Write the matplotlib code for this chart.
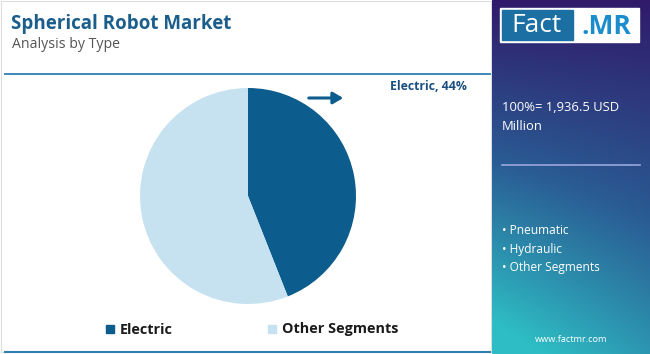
import matplotlib as mpl
import matplotlib.pyplot as plt
import numpy as np
from matplotlib.patches import Rectangle

W, H = 650, 354

# data
segments = ["Electric", "Other Segments"]
shares = [44, 56]
colors = ["#0d5c8e", "#c6e1f0"]
total_label = "100%= 1,936.5 USD\nMillion"
bullets = ["Pneumatic", "Hydraulic", "Other Segments"]

plt.rcParams['font.family'] = ['Open Sans', 'DejaVu Sans']

fig = plt.figure(figsize=(W / 100, H / 100), dpi=100)
fig.patch.set_facecolor("white")


def px_axes(x0, y0, x1, y1, **kw):
    # pixel box (top-left origin) -> figure axes
    return fig.add_axes([x0 / W, 1 - y1 / H, (x1 - x0) / W, (y1 - y0) / H], **kw)


# background frame for whole figure
bg = px_axes(0, 0, W, H)
bg.set_xlim(0, W)
bg.set_ylim(H, 0)
bg.axis("off")
bg.add_patch(Rectangle((1, 1), 490, 351, fill=False, ec="#dddddd", lw=0.8))
bg.plot([5, 490], [74, 74], color="#2f7fb0", lw=1.3)
bg.plot([5, 490], [352, 352], color="#2f7fb0", lw=1.5)
bg.text(11, 24, "Spherical Robot Market", fontsize=13.5, fontweight="bold",
        color="#1b5e8c", va="center", ha="left")
bg.text(12, 45, "Analysis by Type", fontsize=10.2, color="#555555",
        va="center", ha="left")

# right gradient panel
rp = px_axes(492, 0, W, H)
yy, xx = np.mgrid[0:1:200j, 0:1:100j]
t = np.clip(0.8 * yy + 0.3 * (1 - xx) * yy, 0, 1)
top = np.array([0x30, 0x1b, 0x6a]) / 255
mid = np.array([0x2a, 0x5c, 0x94]) / 255
bot = np.array([0x2e, 0xbd, 0xc4]) / 255
img = np.where(t[..., None] < 0.5,
               top + (mid - top) * (t[..., None] / 0.5),
               mid + (bot - mid) * ((t[..., None] - 0.5) / 0.5))
rp.imshow(img, aspect="auto", extent=[0, W - 492, H, 0])
rp.set_xlim(0, W - 492)
rp.set_ylim(H, 0)
rp.axis("off")

# logo
rp.add_patch(Rectangle((8, 8), 139, 34, color="white"))
rp.add_patch(Rectangle((10, 10), 71, 30, color="#1c6fa3"))
rp.text(45, 26, "Fact", color="white", fontsize=19, ha="center", va="center")
rp.text(114, 26, ".MR", color="#1b8ccc", fontsize=19, fontweight="bold",
        ha="center", va="center")

rp.text(10, 117, total_label, color="white", fontsize=9.4, ha="left",
        va="center", linespacing=1.65)
rp.plot([10, 148], [165, 165], color="#9aa6dd", lw=1.2)
for i, b in enumerate(bullets):
    rp.text(10, 231 + i * 18, "\u2022 " + b, color="white", fontsize=8.6,
            ha="left", va="center")
rp.text(79, 339, "www.factmr.com", color="white", fontsize=6.6,
        ha="center", va="center")

# pie
r = 108
cx, cy = 248, 196
ax = px_axes(cx - r, cy - r, cx + r, cy + r)
ax.pie(shares, colors=colors, startangle=90, counterclock=False,
       wedgeprops=dict(linewidth=0))
ax.set_xlim(-1, 1)
ax.set_ylim(-1, 1)
ax.set_aspect("equal")

# annotation
bg.annotate("", xy=(346, 98), xytext=(306, 98),
            arrowprops=dict(arrowstyle="-|>,head_length=0.6,head_width=0.35",
                            color="#0d5c8e", lw=2.2))
bg.text(467, 87, f"{segments[0]}, {shares[0]}%", fontsize=8.8,
        fontweight="bold", color="#1b4f80", ha="right", va="center")

# legend
lx = [106, 268]
for x, s, c in zip(lx, segments, colors):
    bg.add_patch(Rectangle((x, 325), 8, 8, color=c))
    bg.text(x + 14, 329.5, s, fontsize=10.4, fontweight="bold", color="#1a1a1a",
            ha="left", va="center")

fig.savefig("out.png", dpi=100)
